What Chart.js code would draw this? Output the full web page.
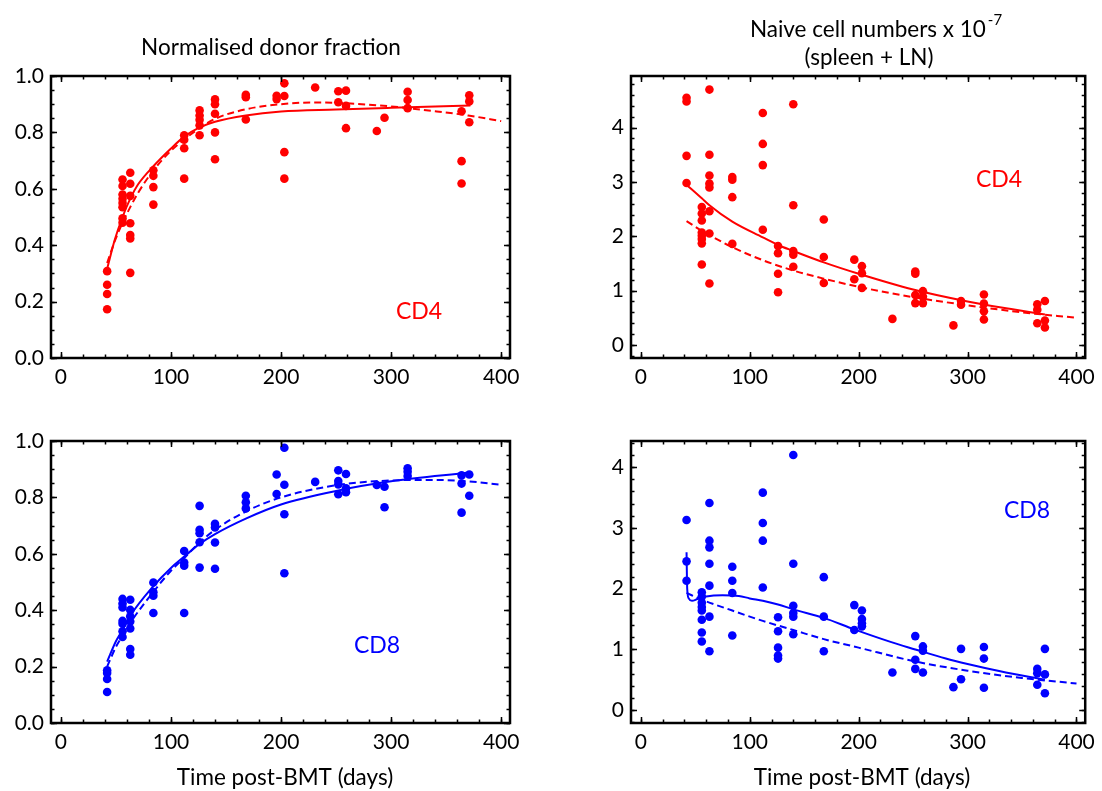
<!DOCTYPE html>
<html>
<head>
<meta charset="utf-8">
<script src="https://cdn.jsdelivr.net/npm/chart.js@4.4.1/dist/chart.umd.min.js"></script>
<style>
  body { margin: 0; background: #fff; }
  #wrap { position: relative; width: 1102px; height: 791px; }
  canvas { position: absolute; }
</style>
</head>
<body>
<div id="wrap">
  <canvas id="frac4" width="551" height="400" style="left:0;top:0;width:551px;height:400px"></canvas>
  <canvas id="num4" width="551" height="400" style="left:551px;top:0;width:551px;height:400px"></canvas>
  <canvas id="frac8" width="551" height="391" style="left:0;top:400px;width:551px;height:391px"></canvas>
  <canvas id="num8" width="551" height="391" style="left:551px;top:400px;width:551px;height:391px"></canvas>
</div>
<script>
// sampling days (time post-BMT)
const days = [42, 56, 63, 84, 112, 126, 140, 168, 196, 203, 231, 252, 259, 287, 294, 315, 364, 371];

// observations, one list per sampling day
const cd4Frac = [
  [0.308, 0.26, 0.227, 0.173],
  [0.633, 0.61, 0.58, 0.565, 0.55, 0.535, 0.495, 0.48],
  [0.657, 0.618, 0.575, 0.478, 0.436, 0.424, 0.302],
  [0.666, 0.646, 0.606, 0.544],
  [0.79, 0.774, 0.744, 0.636],
  [0.878, 0.86, 0.845, 0.825, 0.79],
  [0.917, 0.90, 0.866, 0.80, 0.705],
  [0.933, 0.925, 0.846],
  [0.93, 0.918],
  [0.974, 0.929, 0.73, 0.636],
  [0.959],
  [0.946, 0.907],
  [0.948, 0.894, 0.815],
  [0.805],
  [0.852],
  [0.944, 0.915, 0.886],
  [0.875, 0.698, 0.619],
  [0.932, 0.91, 0.836]
];
const cd4Num = [
  [4.55, 4.48, 3.48, 2.98],
  [2.54, 2.42, 2.29, 2.07, 2.01, 1.95, 1.87, 1.48],
  [4.70, 3.50, 3.12, 2.97, 2.90, 2.46, 2.05, 1.13],
  [3.09, 3.04, 2.72, 1.86],
  [4.27, 3.70, 3.31, 2.12],
  [1.82, 1.69, 1.31, 0.97],
  [4.43, 2.57, 1.73, 1.66, 1.44],
  [2.31, 1.62, 1.14],
  [1.57, 1.21],
  [1.45, 1.32, 1.05],
  [0.48],
  [1.35, 1.31, 0.92, 0.77],
  [0.99, 0.89, 0.77],
  [0.36],
  [0.81, 0.74],
  [0.93, 0.76, 0.62, 0.47],
  [0.75, 0.65, 0.40],
  [0.81, 0.45, 0.32]
];
const cd8Frac = [
  [0.187, 0.177, 0.156, 0.11],
  [0.44, 0.424, 0.41, 0.362, 0.352, 0.325, 0.305],
  [0.437, 0.401, 0.378, 0.36, 0.335, 0.262, 0.242],
  [0.498, 0.464, 0.451, 0.39],
  [0.61, 0.569, 0.558, 0.39],
  [0.77, 0.685, 0.673, 0.641, 0.551],
  [0.706, 0.693, 0.64, 0.547],
  [0.806, 0.783, 0.761],
  [0.881, 0.812],
  [0.976, 0.845, 0.74, 0.531],
  [0.855],
  [0.896, 0.858, 0.846, 0.811],
  [0.883, 0.832, 0.818],
  [0.844],
  [0.838, 0.765],
  [0.903, 0.891, 0.876],
  [0.878, 0.849, 0.746],
  [0.881, 0.806]
];
const cd8Num = [
  [3.13, 2.45, 2.13],
  [1.94, 1.87, 1.77, 1.70, 1.64, 1.49, 1.28, 1.13],
  [3.41, 2.79, 2.68, 2.41, 2.05, 1.54, 0.97],
  [2.36, 2.13, 1.93, 1.23],
  [3.58, 3.08, 2.79, 2.02],
  [1.53, 1.30, 1.03, 0.90, 0.85],
  [4.20, 2.41, 1.72, 1.60, 1.54, 1.25],
  [2.19, 1.54, 0.97],
  [1.73, 1.32],
  [1.64, 1.50, 1.43, 1.38],
  [0.62],
  [1.22, 0.83, 0.68],
  [1.05, 0.98, 0.62],
  [0.38],
  [1.01, 0.51],
  [1.04, 0.85, 0.37],
  [0.68, 0.61, 0.42],
  [1.01, 0.59, 0.28]
];

// model fits (solid = model 1, dashed = model 2)
const cd4FracFitX = [42, 49, 56, 63, 70, 84, 100, 112, 126, 140, 168, 200, 250, 300, 372];
const cd4FracFitY = [0.316, 0.42, 0.50, 0.565, 0.615, 0.68, 0.743, 0.785, 0.818, 0.838, 0.86, 0.874, 0.881, 0.887, 0.895];
const cd4FracAltX = [42, 49, 56, 63, 70, 84, 100, 112, 126, 140, 168, 200, 230, 260, 300, 340, 370, 400];
const cd4FracAltY = [0.337, 0.415, 0.48, 0.535, 0.585, 0.665, 0.735, 0.775, 0.815, 0.848, 0.882, 0.90, 0.906, 0.903, 0.892, 0.875, 0.86, 0.84];

const cd4NumFitX = [42, 56, 63, 84, 112, 126, 140, 168, 200, 250, 300, 340, 371];
const cd4NumFitY = [2.95, 2.70, 2.57, 2.27, 1.98, 1.84, 1.73, 1.52, 1.31, 1.02, 0.80, 0.66, 0.56];
const cd4NumAltX = [42, 56, 63, 84, 112, 140, 168, 200, 250, 300, 350, 400];
const cd4NumAltY = [2.28, 2.10, 2.02, 1.80, 1.56, 1.37, 1.22, 1.07, 0.88, 0.73, 0.60, 0.50];

const cd8FracFitX = [42, 50, 56, 63, 84, 100, 112, 126, 140, 168, 200, 250, 300, 371];
const cd8FracFitY = [0.218, 0.29, 0.33, 0.38, 0.485, 0.55, 0.59, 0.635, 0.67, 0.725, 0.775, 0.823, 0.857, 0.888];
const cd8FracAltX = [42, 50, 56, 63, 84, 100, 112, 126, 140, 168, 200, 250, 300, 340, 370, 400];
const cd8FracAltY = [0.20, 0.27, 0.31, 0.355, 0.465, 0.54, 0.585, 0.64, 0.685, 0.75, 0.80, 0.843, 0.86, 0.862, 0.857, 0.845];

const cd8NumFitX = [42, 42.6, 44, 47, 52, 60, 75, 90, 100, 112, 126, 140, 168, 196, 230, 252, 280, 300, 330, 371];
const cd8NumFitY = [2.60, 2.0, 1.84, 1.80, 1.83, 1.87, 1.89, 1.88, 1.84, 1.80, 1.74, 1.66, 1.52, 1.33, 1.12, 1.0, 0.85, 0.76, 0.64, 0.50];
const cd8NumAltX = [42, 56, 84, 112, 140, 168, 200, 250, 300, 350, 400];
const cd8NumAltY = [1.93, 1.82, 1.64, 1.47, 1.32, 1.17, 1.03, 0.81, 0.65, 0.53, 0.44];

const xTicks = [0, 100, 200, 300, 400];

Chart.defaults.font.family = "Lato";
Chart.defaults.color = "#000";

const labelFont = "22.5px Lato";
const supFont = "15px Lato";

// inward ticks on all four sides + frame
const frameTicks = {
  id: "frameTicks",
  afterDatasetsDraw(chart, args, opts) {
    const { ctx, chartArea: a, scales } = chart;
    ctx.save();
    ctx.strokeStyle = "#000";
    ctx.lineWidth = 1.5;
    const mark = (scale, step, len) => {
      const i0 = Math.ceil(scale.min / step - 1e-9);
      const i1 = Math.floor(scale.max / step + 1e-9);
      for (let i = i0; i <= i1; i++) {
        const p = Math.round(scale.getPixelForValue(i * step)) + 0.5;
        ctx.beginPath();
        if (scale.isHorizontal()) {
          ctx.moveTo(p, a.bottom); ctx.lineTo(p, a.bottom - len);
          ctx.moveTo(p, a.top); ctx.lineTo(p, a.top + len);
        } else {
          ctx.moveTo(a.left, p); ctx.lineTo(a.left + len, p);
          ctx.moveTo(a.right, p); ctx.lineTo(a.right - len, p);
        }
        ctx.stroke();
      }
    };
    mark(scales.x, 20, 3.5);
    mark(scales.x, 100, 6);
    mark(scales.y, opts.minor, 3.5);
    mark(scales.y, opts.major, 6);
    ctx.lineWidth = 2.5;
    ctx.strokeRect(a.left, a.top, a.width, a.height);
    ctx.restore();
  }
};

// titles, axis label and the CD4 / CD8 tag
const panelText = {
  id: "panelText",
  afterDraw(chart, args, o) {
    const ctx = chart.ctx;
    ctx.save();
    ctx.textBaseline = "middle";
    ctx.textAlign = "center";
    ctx.fillStyle = "#000";
    ctx.font = labelFont;
    (o.lines || []).forEach(l => {
      if (l.sup) {
        const w = ctx.measureText(l.text).width;
        ctx.font = supFont;
        const ws = ctx.measureText(l.sup).width;
        ctx.font = labelFont;
        const left = l.x - (w + ws + 2) / 2;
        ctx.textAlign = "left";
        ctx.fillText(l.text, left, l.y);
        ctx.font = supFont;
        ctx.fillText(l.sup, left + w + 2, l.y - 10);
        ctx.font = labelFont;
        ctx.textAlign = "center";
      } else {
        ctx.fillText(l.text, l.x, l.y);
      }
    });
    ctx.font = "23px Lato";
    ctx.fillStyle = o.color;
    ctx.fillText(o.tag, o.tagX, o.tagY);
    ctx.restore();
  }
};

function points(obs) {
  const pts = [];
  days.forEach((d, i) => obs[i].forEach(v => pts.push({ x: d, y: v })));
  return pts;
}
function curve(xs, ys) {
  return xs.map((x, i) => ({ x: x, y: ys[i] }));
}

function makePanel(id, p) {
  const canvas = document.getElementById(id);
  const W = canvas.width, H = canvas.height;
  new Chart(canvas.getContext("2d"), {
    type: "scatter",
    data: {
      datasets: [
        { data: points(p.obs), backgroundColor: p.color, borderWidth: 0, pointRadius: 4.3 },
        { data: curve(p.fitX, p.fitY), showLine: true, pointRadius: 0, borderColor: p.color,
          borderWidth: 2, cubicInterpolationMode: "monotone" },
        { data: curve(p.altX, p.altY), showLine: true, pointRadius: 0, borderColor: p.color,
          borderWidth: 2, borderDash: [7, 4], cubicInterpolationMode: "monotone" }
      ]
    },
    options: {
      responsive: false,
      animation: false,
      layout: { padding: { left: 0, top: p.area.top, right: W - p.area.right, bottom: 0 } },
      plugins: {
        legend: { display: false },
        tooltip: { enabled: false },
        frameTicks: { major: p.yStep, minor: p.yMinor },
        panelText: { lines: p.lines, tag: p.tag, tagX: p.tagX, tagY: p.tagY, color: p.color }
      },
      scales: {
        x: {
          type: "linear", min: -9, max: 408,
          afterFit: s => { s.height = H - p.area.bottom; },
          afterBuildTicks: s => { s.ticks = xTicks.map(v => ({ value: v })); },
          grid: { display: false, drawTicks: false },
          border: { display: false },
          ticks: { font: { size: 21 }, padding: 7, maxRotation: 0 }
        },
        y: {
          type: "linear", min: p.yMin, max: p.yMax,
          afterFit: s => { s.width = p.area.left; },
          afterBuildTicks: s => { s.ticks = p.yTicks.map(v => ({ value: v })); },
          grid: { display: false, drawTicks: false },
          border: { display: false },
          ticks: { font: { size: 21 }, padding: 7, callback: p.yFmt }
        }
      }
    },
    plugins: [frameTicks, panelText]
  });
}

const red = "#ff0000", blue = "#0000ff";
const timeLabel = "Time post-BMT (days)";

makePanel("frac4", {
  obs: cd4Frac, fitX: cd4FracFitX, fitY: cd4FracFitY, altX: cd4FracAltX, altY: cd4FracAltY,
  color: red, area: { left: 51, right: 510, top: 76, bottom: 358 },
  yMin: 0, yMax: 1, yTicks: [0, 0.2, 0.4, 0.6, 0.8, 1.0], yStep: 0.2, yMinor: 0.05,
  yFmt: v => v.toFixed(1),
  lines: [{ text: "Normalised donor fraction", x: 271, y: 48 }],
  tag: "CD4", tagX: 419, tagY: 312
});
makePanel("num4", {
  obs: cd4Num, fitX: cd4NumFitX, fitY: cd4NumFitY, altX: cd4NumAltX, altY: cd4NumAltY,
  color: red, area: { left: 80, right: 539, top: 76, bottom: 358 },
  yMin: -0.24, yMax: 4.95, yTicks: [0, 1, 2, 3, 4], yStep: 1, yMinor: 0.2,
  yFmt: v => String(v),
  lines: [{ text: "Naive cell numbers x 10", sup: "-7", x: 325, y: 30 },
          { text: "(spleen + LN)", x: 318, y: 58 }],
  tag: "CD4", tagX: 448, tagY: 180
});
makePanel("frac8", {
  obs: cd8Frac, fitX: cd8FracFitX, fitY: cd8FracFitY, altX: cd8FracAltX, altY: cd8FracAltY,
  color: blue, area: { left: 51, right: 510, top: 41, bottom: 323 },
  yMin: 0, yMax: 1, yTicks: [0, 0.2, 0.4, 0.6, 0.8, 1.0], yStep: 0.2, yMinor: 0.05,
  yFmt: v => v.toFixed(1),
  lines: [{ text: timeLabel, x: 285, y: 378 }],
  tag: "CD8", tagX: 377, tagY: 246
});
makePanel("num8", {
  obs: cd8Num, fitX: cd8NumFitX, fitY: cd8NumFitY, altX: cd8NumAltX, altY: cd8NumAltY,
  color: blue, area: { left: 80, right: 539, top: 41, bottom: 323 },
  yMin: -0.21, yMax: 4.43, yTicks: [0, 1, 2, 3, 4], yStep: 1, yMinor: 0.2,
  yFmt: v => String(v),
  lines: [{ text: timeLabel, x: 311, y: 378 }],
  tag: "CD8", tagX: 476, tagY: 111
});
</script>
</body>
</html>
